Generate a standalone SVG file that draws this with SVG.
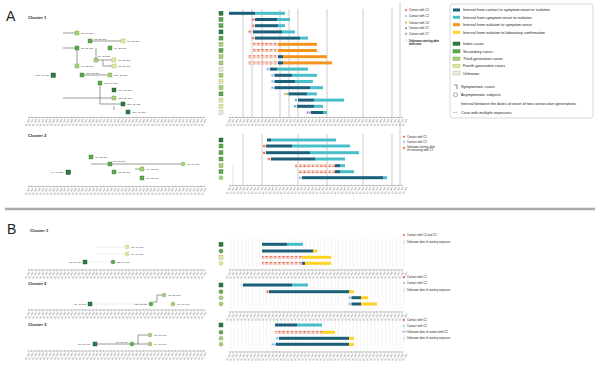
<svg xmlns="http://www.w3.org/2000/svg" width="608" height="369" viewBox="0 0 608 369">
<style>
.t{font-family:"Liberation Sans",Arial,sans-serif;fill:#222}
.big{font-size:14px}
.h{font-size:4.3px;font-weight:bold}
.lg{font-size:3.9px}
.sl{font-size:2.8px}
.nl{font-family:"Liberation Sans",Arial,sans-serif;font-size:2.5px;fill:#333}
.tk{font-family:"Liberation Sans",Arial,sans-serif;font-size:2.5px;fill:#555}
.axl{stroke:#8a8a8a;stroke-width:0.5}
.axt{stroke:#8a8a8a;stroke-width:1.4;stroke-dasharray:0.4 3.2}
.grid{stroke:#c6c6c6;stroke-width:0.9}
.dk{fill:#1c5f78}.lt{fill:#47bec8}.or{fill:#f7941d}.ye{fill:#fed325}
.n1{fill:#2d7b3e;stroke:#1c4f28;stroke-width:0.4}
.n2{fill:#5ea84e;stroke:#3d7a33;stroke-width:0.4}
.n3{fill:#a8d17a;stroke:#6f9c4a;stroke-width:0.4}
.n4{fill:#e0eba0;stroke:#a8b56a;stroke-width:0.4}
.n5{fill:#ececdf;stroke:#a0a08a;stroke-width:0.4}
.e{stroke:#6e6e6e;stroke-width:0.7;fill:none}
.ed{stroke:#c4c4c4;stroke-width:0.6;fill:none;stroke-dasharray:1 1}
.mr{fill:#ef5a3a}.mb{fill:#8ab8ea}.mg{fill:#e3a91e}.mt{fill:#3fa0b8}.mp{fill:#a77fd0}
.bg{fill:#f5dbd3}
</style>
<defs>
<pattern id="pr" width="4.2" height="3" patternUnits="userSpaceOnUse">
<rect width="4.2" height="3" fill="#f6ddd6"/><circle cx="2.1" cy="1.5" r="1" fill="#ef5a3a"/>
</pattern>
<pattern id="vg" width="3.6" height="10" patternUnits="userSpaceOnUse">
<rect width="0.5" height="10" fill="#ececec"/>
</pattern>
<text id="tl" class="tk" text-anchor="end" transform="rotate(-60)">01-Jan</text>
<g id="t10"><use href="#tl"/><use href="#tl" x="3.6"/><use href="#tl" x="7.2"/><use href="#tl" x="10.8"/><use href="#tl" x="14.4"/><use href="#tl" x="18"/><use href="#tl" x="21.6"/><use href="#tl" x="25.2"/><use href="#tl" x="28.8"/><use href="#tl" x="32.4"/></g>
<g id="t50"><use href="#t10"/><use href="#t10" x="36"/><use href="#t10" x="72"/><use href="#t10" x="108"/><use href="#t10" x="144"/></g>
</defs>
<rect width="608" height="369" fill="#fff"/>

<!-- Titles -->
<text class="t big" x="6" y="21">A</text>
<text class="t big" x="7" y="234">B</text>
<text class="t h" x="28" y="18.5">Cluster 1</text>
<text class="t h" x="28" y="136.5">Cluster 2</text>
<text class="t h" x="30" y="231.5">Cluster 1</text>
<text class="t h" x="28" y="284.5">Cluster 2</text>
<text class="t h" x="28" y="325.5">Cluster 3</text>
<line x1="5" y1="209" x2="595" y2="209" stroke="#a9a9a9" stroke-width="2.5"/>

<!-- grids -->
<g id="grids">
<g class="grid">
<line x1="243" y1="9" x2="243" y2="117"/><line x1="252" y1="9" x2="252" y2="117"/><line x1="262" y1="9" x2="262" y2="117"/><line x1="280" y1="9" x2="280" y2="117"/><line x1="289" y1="9" x2="289" y2="117"/><line x1="298" y1="9" x2="298" y2="117"/><line x1="327" y1="9" x2="327" y2="117"/><line x1="363" y1="9" x2="363" y2="117"/><line x1="392" y1="9" x2="392" y2="117"/><line x1="400" y1="2" x2="400" y2="117"/>
<line x1="243" y1="134" x2="243" y2="185"/><line x1="262" y1="134" x2="262" y2="185"/><line x1="298" y1="134" x2="298" y2="185"/><line x1="327" y1="134" x2="327" y2="185"/><line x1="363" y1="134" x2="363" y2="185"/><line x1="392" y1="134" x2="392" y2="185"/><line x1="400" y1="122" x2="400" y2="185"/><line x1="233" y1="164" x2="233" y2="185" stroke="#e4e4e4"/>
</g>
<rect x="229" y="238" width="176" height="31" fill="url(#vg)"/>
<rect x="229" y="280" width="176" height="31" fill="url(#vg)"/>
<rect x="229" y="320" width="176" height="31" fill="url(#vg)"/>
</g>

<!-- axes -->
<g id="axes">
<line class="axl" x1="28" y1="117.5" x2="205" y2="117.5"/><line class="axt" x1="28" y1="117.5" x2="205" y2="117.5"/><use href="#t50" x="30" y="119.5"/>
<line class="axl" x1="229" y1="117.5" x2="403" y2="117.5"/><line class="axt" x1="229" y1="117.5" x2="403" y2="117.5"/><use href="#t50" x="231" y="119.5"/>
<line class="axl" x1="28" y1="186.5" x2="205" y2="186.5"/><line class="axt" x1="28" y1="186.5" x2="205" y2="186.5"/><use href="#t50" x="30" y="188.5"/>
<line class="axl" x1="229" y1="185.5" x2="403" y2="185.5"/><line class="axt" x1="229" y1="185.5" x2="403" y2="185.5"/><use href="#t50" x="231" y="187.5"/>
<line class="axl" x1="28" y1="270" x2="205" y2="270"/><line class="axt" x1="28" y1="270" x2="205" y2="270"/><use href="#t50" x="30" y="272"/>
<line class="axl" x1="229" y1="270" x2="403" y2="270"/><line class="axt" x1="229" y1="270" x2="403" y2="270"/><use href="#t50" x="231" y="272"/>
<line class="axl" x1="28" y1="310" x2="205" y2="310"/><line class="axt" x1="28" y1="310" x2="205" y2="310"/><use href="#t50" x="30" y="312"/>
<line class="axl" x1="229" y1="312" x2="403" y2="312"/><line class="axt" x1="229" y1="312" x2="403" y2="312"/><use href="#t50" x="231" y="314"/>
<line class="axl" x1="28" y1="351" x2="205" y2="351"/><line class="axt" x1="28" y1="351" x2="205" y2="351"/><use href="#t50" x="30" y="353"/>
<line class="axl" x1="229" y1="352" x2="403" y2="352"/><line class="axt" x1="229" y1="352" x2="403" y2="352"/><use href="#t50" x="231" y="354"/>
</g>

<!-- connectors -->
<g id="connectors">
<g class="e">
<path d="M63 33H75"/><path d="M92 41H121"/><path d="M63 48H75"/><path d="M77 50V64"/><path d="M96 48V58"/><path d="M98 60H112M103 60V66H112"/><path d="M84 75H108"/><path d="M100 85V104H121"/><path d="M63 98H112"/><path d="M114 106V110"/>
<path d="M91 164H181"/><path d="M135 169H140"/>
<path d="M97 344H130"/><path d="M138 344V335H148M134 344H148"/>
<path d="M153 302H157V295H162"/>
</g>
<g class="ed">
<path d="M97 247H125"/><path d="M97 254H125"/><path d="M87 262H111"/><path d="M92 304H149"/>
</g>
</g>

<!-- Cluster A1 tree nodes -->
<g id="a1-tree">
<g id="a1t1"><rect class="n3" x="75" y="31" width="4" height="4"/><text class="nl" x="81" y="34">C1, 20 Jan</text></g>
<g id="a1t2"><rect class="n2" x="88" y="39" width="4" height="4"/><text class="nl" x="94" y="39.5">C2, 22 Jan</text></g>
<g id="a1t3"><rect class="n4" x="121" y="39" width="4" height="4"/><text class="nl" x="127" y="42">C3, 27 Jan</text></g>
<g id="a1t4"><rect class="n2" x="108" y="46" width="4" height="4"/><text class="nl" x="114" y="49">C4, 25 Jan</text></g>
<g id="a1t5"><rect class="n2" x="75" y="46" width="4" height="4"/><text class="nl" x="81" y="49">C5, 21 Jan</text></g>
<g id="a1t6"><rect class="n3" x="94" y="58" width="4" height="4"/><text class="nl" x="98" y="56.5">C6, 23 Jan</text></g>
<g id="a1t7"><rect class="n4" x="112" y="58" width="4" height="4"/><text class="nl" x="118" y="61">C7, 28 Jan</text></g>
<g id="a1t8"><rect class="n4" x="112" y="64" width="4" height="4"/><text class="nl" x="118" y="67">C8, 28 Jan</text></g>
<g id="a1t9"><rect class="n3" x="75" y="64" width="4" height="4"/><text class="nl" x="81" y="67">C9, 22 Jan</text></g>
<g id="a1t10"><rect class="n1" x="51" y="73" width="4.5" height="4.5"/><text class="nl" x="49" y="76" text-anchor="end">C10, 14 Jan</text></g>
<g id="a1t11"><rect class="n2" x="80" y="73" width="4" height="4"/><text class="nl" x="86" y="73.5">C11, 20 Jan</text></g>
<g id="a1t12"><rect class="n3" x="108" y="73" width="4" height="4"/><text class="nl" x="114" y="76">C12, 25 Jan</text></g>
<g id="a1t13"><rect class="n2" x="98" y="81" width="4" height="4"/><text class="nl" x="104" y="84">C13, 24 Jan</text></g>
<g id="a1t14"><rect class="n1" x="112" y="88" width="4" height="4"/><text class="nl" x="118" y="91">C14, 27 Jan</text></g>
<g id="a1t15"><rect class="n3" x="112" y="96" width="4" height="4"/><text class="nl" x="118" y="99">C15, 27 Jan</text></g>
<g id="a1t16"><rect class="n1" x="121" y="102" width="4" height="4"/><text class="nl" x="127" y="105">C16, 29 Jan</text></g>
<g id="a1t17"><rect class="n1" x="126" y="110" width="4" height="4"/><text class="nl" x="132" y="113">C17, 30 Jan</text></g>
</g>

<!-- Cluster A2 tree nodes -->
<g id="a2-tree">
<g id="a2t1"><rect class="n2" x="89" y="155" width="4" height="4"/><text class="nl" x="95" y="158">C1, 21 Jan</text></g>
<g id="a2t2"><rect class="n2" x="108" y="162" width="4" height="4"/><text class="nl" x="113" y="162">C2, 25 Jan</text></g>
<g id="a2t3"><circle class="n3" cx="183" cy="164" r="2"/><text class="nl" x="187" y="165">C3, 14 Feb</text></g>
<g id="a2t4"><rect class="n1" x="66" y="170" width="4.5" height="4.5"/><text class="nl" x="63" y="173" text-anchor="end">C4, 17 Jan</text></g>
<g id="a2t5"><rect class="n2" x="112" y="170" width="4" height="4"/><text class="nl" x="118" y="173">C5, 26 Jan</text></g>
<g id="a2t6"><rect class="n3" x="140" y="167" width="4" height="4"/><text class="nl" x="146" y="170">C6, 02 Feb</text></g>
<g id="a2t7"><rect class="n2" x="140" y="176" width="4" height="4"/><text class="nl" x="146" y="179">C7, 02 Feb</text></g>
</g>

<!-- Cluster B1 tree nodes -->
<g id="b1-tree">
<g id="b1t1"><circle class="n4" cx="127" cy="247" r="2"/><text class="nl" x="131" y="248">C3, 14 Feb</text></g>
<g id="b1t2"><circle class="n4" cx="127" cy="254" r="2"/><text class="nl" x="131" y="255">C4, 14 Feb</text></g>
<g id="b1t3"><rect class="n1" x="83" y="260" width="4" height="4"/><text class="nl" x="81" y="263" text-anchor="end">C1, 01 Feb</text></g>
<g id="b1t4"><circle class="n2" cx="113" cy="262" r="2"/><text class="nl" x="117" y="263">C2, 09 Feb</text></g>
</g>

<!-- Cluster B2 tree nodes -->
<g id="b2-tree">
<g id="b2t1"><rect class="n1" x="88" y="302" width="4" height="4"/><text class="nl" x="86" y="305" text-anchor="end">C1, 31 Jan</text></g>
<g id="b2t2"><circle class="n2" cx="151" cy="304" r="2"/><text class="nl" x="147" y="305" text-anchor="end">C2, 17 Feb</text></g>
<g id="b2t3"><circle class="n3" cx="164" cy="295" r="2"/><text class="nl" x="168" y="296">C3, 21 Feb</text></g>
<g id="b2t4"><circle class="n3" cx="173" cy="304" r="2"/><text class="nl" x="177" y="305">C4, 24 Feb</text></g>
</g>

<!-- Cluster B3 tree nodes -->
<g id="b3-tree">
<g id="b3t1"><rect class="n1" x="93" y="342" width="4" height="4"/><text class="nl" x="90" y="345" text-anchor="end">C1, 01 Feb</text></g>
<g id="b3t2"><circle class="n2" cx="132" cy="344" r="2"/><text class="nl" x="128" y="343" text-anchor="end">C2, 12 Feb</text></g>
<g id="b3t3"><circle class="n3" cx="150" cy="335" r="2"/><text class="nl" x="154" y="336">C3, 17 Feb</text></g>
<g id="b3t4"><circle class="n3" cx="150" cy="344" r="2"/><text class="nl" x="154" y="345">C4, 17 Feb</text></g>
</g>

<!-- A1 timeline -->
<g id="a1-bars">
<rect class="n1" x="219" y="11.3" width="4" height="4"/><rect class="dk" x="229" y="11.8" width="26" height="3"/><rect class="lt" x="255" y="11.8" width="30" height="3"/>
<rect class="n2" x="219" y="17.5" width="4" height="4"/><rect class="bg" x="251" y="18" width="4" height="3"/><circle class="mr" cx="253" cy="19.5" r="1"/><rect class="dk" x="255" y="18" width="22" height="3"/><rect class="lt" x="277" y="18" width="13" height="3"/>
<rect class="n2" x="219" y="23.7" width="4" height="4"/><rect class="bg" x="251" y="24.2" width="4" height="3"/><circle class="mr" cx="253" cy="25.7" r="1"/><rect class="dk" x="255" y="24.2" width="23" height="3"/><rect class="lt" x="278" y="24.2" width="7" height="3"/>
<rect class="n1" x="219" y="29.9" width="4" height="4"/><rect x="248" y="30.4" width="5" height="3" fill="url(#pr)"/><rect class="dk" x="253" y="30.4" width="29" height="3"/><rect class="lt" x="282" y="30.4" width="13" height="3"/>
<rect class="n2" x="219" y="36.1" width="4" height="4"/><rect class="bg" x="251" y="36.6" width="4" height="3"/><circle class="mr" cx="253" cy="38.1" r="1"/><rect class="dk" x="255" y="36.6" width="45" height="3"/><rect class="lt" x="300" y="36.6" width="8" height="3"/>
<rect class="n3" x="219" y="42.3" width="4" height="4"/><rect x="253" y="42.8" width="25" height="3" fill="url(#pr)"/><rect class="or" x="278" y="42.8" width="39" height="3"/>
<rect class="n2" x="219" y="48.5" width="4" height="4"/><rect x="253" y="49" width="25" height="3" fill="url(#pr)"/><rect class="or" x="278" y="49" width="39" height="3"/>
<rect class="n3" x="219" y="54.7" width="4" height="4"/><rect x="248" y="55.2" width="30" height="3" fill="url(#pr)"/><rect class="dk" x="278" y="55.2" width="5" height="3"/><rect class="or" x="283" y="55.2" width="44" height="3"/>
<rect class="n3" x="219" y="60.9" width="4" height="4"/><rect x="248" y="61.4" width="30" height="3" fill="url(#pr)"/><rect class="dk" x="278" y="61.4" width="5" height="3"/><rect class="or" x="283" y="61.4" width="49" height="3"/>
<rect class="n5" x="219" y="67.1" width="4" height="4"/><rect x="266" y="67.6" width="4" height="3" fill="#dbe9f7"/><circle class="mb" cx="268" cy="69.1" r="1"/><rect class="dk" x="270" y="67.6" width="7" height="3"/><rect class="lt" x="277" y="67.6" width="31" height="3"/>
<rect class="n3" x="219" y="73.3" width="4" height="4"/><rect x="270.5" y="73.8" width="4" height="3" fill="#dbe9f7"/><circle class="mb" cx="272.5" cy="75.3" r="1"/><rect class="dk" x="274.5" y="73.8" width="17.5" height="3"/><rect class="lt" x="292" y="73.8" width="25" height="3"/>
<rect class="n4" x="219" y="79.5" width="4" height="4"/><rect x="270.5" y="80" width="4" height="3" fill="#dbe9f7"/><circle class="mb" cx="272.5" cy="81.5" r="1"/><rect class="dk" x="274.5" y="80" width="20.5" height="3"/><rect class="lt" x="295" y="80" width="18" height="3"/>
<rect class="n3" x="219" y="85.7" width="4" height="4"/><rect x="270.5" y="86.2" width="4" height="3" fill="#dbe9f7"/><circle class="mb" cx="272.5" cy="87.7" r="1"/><rect class="dk" x="274.5" y="86.2" width="35.5" height="3"/><rect class="lt" x="310" y="86.2" width="13" height="3"/>
<rect class="n2" x="219" y="91.9" width="4" height="4"/><rect x="283.5" y="92.4" width="5" height="3" fill="#eef2d8"/><circle class="mb" cx="285" cy="93.9" r="0.9"/><circle class="mg" cx="287.3" cy="93.9" r="1"/><rect class="dk" x="288.5" y="92.4" width="18.5" height="3"/><rect class="lt" x="307" y="92.4" width="10" height="3"/>
<rect class="n4" x="219" y="98.1" width="4" height="4"/><rect x="294" y="98.6" width="4" height="3" fill="#dceef2"/><circle class="mt" cx="296" cy="100.1" r="1"/><rect class="dk" x="298" y="98.6" width="16" height="3"/><rect class="lt" x="314" y="98.6" width="30" height="3"/>
<rect class="n4" x="219" y="104.3" width="4" height="4"/><rect x="293" y="104.8" width="4" height="3" fill="#dceef2"/><circle class="mt" cx="295" cy="106.3" r="1"/><rect class="dk" x="297" y="104.8" width="17" height="3"/><rect class="lt" x="314" y="104.8" width="9" height="3"/>
<rect class="n5" x="219" y="110.5" width="4" height="4"/><rect x="306" y="111" width="5" height="3" fill="#ece3f6"/><circle class="mp" cx="307.5" cy="112.5" r="0.9"/><circle class="mp" cx="309.8" cy="112.5" r="0.9"/><rect class="dk" x="311" y="111" width="12" height="3"/><rect class="lt" x="323" y="111" width="4" height="3"/>
</g>

<!-- A1 small legend -->
<g id="a1-legend">
<circle class="mr" cx="406" cy="10" r="1"/><text class="t sl" x="409" y="11">Contact with C1</text>
<circle class="mb" cx="406" cy="16" r="1"/><text class="t sl" x="409" y="17">Contact with C2</text>
<circle class="mg" cx="406" cy="22.5" r="1"/><text class="t sl" x="409" y="23.5">Contact with C4</text>
<circle class="mt" cx="406" cy="28.3" r="1"/><text class="t sl" x="409" y="29.3">Contact with C5</text>
<circle class="mp" cx="406" cy="33.7" r="1"/><text class="t sl" x="409" y="34.7">Contact with C7</text>
<line x1="406" y1="39" x2="406" y2="42" stroke="#8ab8ea" stroke-width="0.7" stroke-dasharray="0.7 0.5"/><text class="t sl" x="409" y="41.5" font-weight="bold">Unknown starting date</text><text class="t sl" x="409" y="44.8" font-weight="bold">with case</text>
</g>

<!-- Main legend -->
<g id="legend">
<rect x="450" y="4" width="143" height="114" rx="3" fill="#fff" stroke="#cfcfcf" stroke-width="0.8"/>
<rect class="dk" x="453" y="8.5" width="7" height="3"/><text class="t lg" x="463" y="11.3">Interval from contact to symptom onset or isolation</text>
<rect class="lt" x="453" y="15.8" width="7" height="3"/><text class="t lg" x="463" y="18.6">Interval from symptom onset to isolation</text>
<rect class="or" x="453" y="23.2" width="7" height="3"/><text class="t lg" x="463" y="26">Interval from isolation to symptom onset</text>
<rect class="ye" x="453" y="30.8" width="7" height="3"/><text class="t lg" x="463" y="33.6">Interval from isolation to laboratory confirmation</text>
<rect class="n1" x="453" y="42" width="7" height="3.4"/><text class="t lg" x="463" y="45">Index cases</text>
<rect class="n2" x="453" y="49.6" width="7" height="3.4"/><text class="t lg" x="463" y="52.6">Secondary cases</text>
<rect class="n3" x="453" y="57" width="7" height="3.4"/><text class="t lg" x="463" y="60">Third-generation cases</text>
<rect class="n4" x="453" y="64.3" width="7" height="3.4"/><text class="t lg" x="463" y="67.3">Fourth-generation cases</text>
<rect class="n5" x="453" y="71.6" width="7" height="3.4"/><text class="t lg" x="463" y="74.6">Unknown</text>
<path d="M454 85H457V89" fill="none" stroke="#333" stroke-width="0.6"/><text class="t lg" x="461" y="88">Symptomatic cases</text>
<circle cx="455.5" cy="94.7" r="2" fill="none" stroke="#555" stroke-width="0.5"/><text class="t lg" x="461" y="96">Asymptomatic subjects</text>
<text class="t lg" x="461" y="104.6">Interval between the dates of onset of two consecutive generations</text>
<line x1="453" y1="112.3" x2="458" y2="112.3" stroke="#444" stroke-width="0.6" stroke-dasharray="1.2 1.3"/><text class="t lg" x="461" y="113.6">Case with multiple exposures</text>
</g>

<!-- A2 timeline -->
<g id="a2-bars">
<rect class="n1" x="219" y="138" width="4" height="4"/><rect class="dk" x="267" y="138.5" width="4" height="3"/><rect class="lt" x="271" y="138.5" width="65" height="3"/>
<rect class="n2" x="219" y="144" width="4" height="4"/><rect class="bg" x="262" y="144.5" width="4" height="3"/><circle class="mr" cx="264" cy="146" r="1"/><rect class="dk" x="266" y="144.5" width="26" height="3"/><rect class="lt" x="292" y="144.5" width="58" height="3"/>
<rect class="n2" x="219" y="150.7" width="4" height="4"/><rect class="bg" x="262" y="151.2" width="4" height="3"/><circle class="mr" cx="264" cy="152.7" r="1"/><rect class="dk" x="266" y="151.2" width="44" height="3"/><rect class="lt" x="310" y="151.2" width="49" height="3"/>
<rect class="n2" x="219" y="157" width="4" height="4"/><rect class="bg" x="267" y="157.5" width="4" height="3"/><circle class="mr" cx="269" cy="159" r="1"/><rect class="dk" x="271" y="157.5" width="44" height="3"/><rect class="lt" x="315" y="157.5" width="30" height="3"/>
<rect class="n3" x="219" y="163.7" width="4" height="4"/><rect x="295" y="164.2" width="40" height="3" fill="url(#pr)"/><rect class="dk" x="335" y="164.2" width="5" height="3"/><rect class="lt" x="340" y="164.2" width="5" height="3"/>
<rect class="n2" x="219" y="169.7" width="4" height="4"/><rect x="299" y="170.2" width="36" height="3" fill="url(#pr)"/><rect class="dk" x="335" y="170.2" width="5" height="3"/><rect class="lt" x="340" y="170.2" width="14" height="3"/>
<circle class="n3" cx="221" cy="177.7" r="2"/><rect x="298" y="176.2" width="4" height="3" fill="#dbe9f7"/><circle class="mb" cx="300" cy="177.7" r="1"/><rect class="dk" x="302" y="176.2" width="81" height="3"/><rect class="lt" x="383" y="176.2" width="4" height="3"/>
</g>
<g id="a2-legend">
<circle class="mr" cx="404" cy="136.7" r="1"/><text class="t sl" x="407" y="137.7">Contact with C1</text>
<circle class="mb" cx="404" cy="141.7" r="1"/><text class="t sl" x="407" y="142.7">Contact with C2</text>
<rect x="402.5" y="146.5" width="3" height="3" fill="#f6ddd6"/><circle class="mr" cx="404" cy="148" r="0.9"/><text class="t sl" x="407" y="148.3">Unknown starting date</text><text class="t sl" x="407" y="151.3">of contacting with C1</text>
</g>

<!-- B1 timeline -->
<g id="b1-bars">
<rect class="n1" x="219" y="242.3" width="4" height="4"/><rect class="dk" x="262" y="242.8" width="25" height="3"/><rect class="lt" x="287" y="242.8" width="16" height="3"/>
<circle class="n2" cx="221" cy="251" r="2"/><rect class="dk" x="262" y="249.5" width="51" height="3"/><rect class="ye" x="313" y="249.5" width="4" height="3"/>
<rect class="n4" x="219" y="255.3" width="4" height="4"/><rect x="262" y="255.8" width="40" height="3" fill="url(#pr)"/><rect class="ye" x="302" y="255.8" width="29" height="3"/>
<circle class="n4" cx="221" cy="263.3" r="2"/><rect x="262" y="261.8" width="40" height="3" fill="url(#pr)"/><rect class="dk" x="302" y="261.8" width="3" height="3"/><rect class="ye" x="305" y="261.8" width="26" height="3"/>
</g>
<g id="b1-legend">
<circle class="mr" cx="404" cy="235" r="1"/><text class="t sl" x="407" y="236">Contact with C1 and C2</text>
<line x1="404" y1="240.5" x2="404" y2="243.5" stroke="#777" stroke-width="0.6" stroke-dasharray="0.7 0.5"/><text class="t sl" x="407" y="243">Unknown date of starting exposure</text>
</g>

<!-- B2 timeline -->
<g id="b2-bars">
<rect class="n1" x="219" y="283" width="4" height="4"/><rect x="240.5" y="283.5" width="3" height="3" fill="#dbe9f7"/><rect class="dk" x="243" y="283.5" width="49" height="3"/><rect class="lt" x="292" y="283.5" width="16" height="3"/>
<circle class="n2" cx="221" cy="291.7" r="2"/><rect class="bg" x="266" y="290.2" width="3" height="3"/><circle class="mr" cx="267.5" cy="291.7" r="1"/><rect class="dk" x="269" y="290.2" width="80" height="3"/><rect class="ye" x="349" y="290.2" width="5" height="3"/>
<circle class="n3" cx="221" cy="297.7" r="2"/><rect x="348" y="296.2" width="3.5" height="3" fill="#dbe9f7"/><circle class="mb" cx="349.7" cy="297.7" r="1"/><rect class="dk" x="351.5" y="296.2" width="9.5" height="3"/><rect class="ye" x="361" y="296.2" width="7" height="3"/>
<circle class="n3" cx="221" cy="304" r="2"/><rect x="348" y="302.5" width="3.5" height="3" fill="#dbe9f7"/><circle class="mb" cx="349.7" cy="304" r="1"/><rect class="dk" x="351.5" y="302.5" width="9.5" height="3"/><rect class="ye" x="361" y="302.5" width="16" height="3"/>
</g>
<g id="b2-legend">
<circle class="mr" cx="404" cy="277" r="1"/><text class="t sl" x="407" y="278">Contact with C1</text>
<circle class="mb" cx="404" cy="283" r="1"/><text class="t sl" x="407" y="284">Contact with C2</text>
<line x1="404" y1="288.5" x2="404" y2="291.5" stroke="#777" stroke-width="0.6" stroke-dasharray="0.7 0.5"/><text class="t sl" x="407" y="291">Unknown date of starting exposure</text>
</g>

<!-- B3 timeline -->
<g id="b3-bars">
<rect class="n1" x="219" y="323" width="4" height="4"/><rect class="dk" x="275" y="323.5" width="22" height="3"/><rect class="lt" x="297" y="323.5" width="25" height="3"/>
<circle class="n2" cx="221" cy="332.3" r="2"/><rect x="275" y="330.8" width="47" height="3" fill="url(#pr)"/><rect class="ye" x="322" y="330.8" width="13" height="3"/>
<circle class="n3" cx="221" cy="338.3" r="2"/><rect x="275.5" y="336.8" width="3.5" height="3" fill="#dbe9f7"/><circle class="mb" cx="277.2" cy="338.3" r="1"/><rect class="dk" x="279" y="336.8" width="70" height="3"/><rect class="ye" x="349" y="336.8" width="5" height="3"/>
<circle class="n3" cx="221" cy="344.3" r="2"/><rect x="271.5" y="342.8" width="4.5" height="3" fill="#dbe9f7"/><circle class="mb" cx="272.8" cy="344.3" r="0.9"/><circle class="mb" cx="275" cy="344.3" r="0.9"/><rect class="dk" x="276" y="342.8" width="73" height="3"/><rect class="ye" x="349" y="342.8" width="5" height="3"/>
</g>
<g id="b3-legend">
<circle class="mr" cx="404" cy="320" r="1"/><text class="t sl" x="407" y="321">Contact with C1</text>
<circle class="mb" cx="404" cy="325.7" r="1"/><text class="t sl" x="407" y="326.7">Contact with C2</text>
<circle class="mb" cx="403" cy="331.7" r="0.9"/><circle class="mb" cx="405" cy="331.7" r="0.9"/><text class="t sl" x="407" y="332.7">Unknown date of contact with C2</text>
<line x1="404" y1="336.8" x2="404" y2="339.8" stroke="#777" stroke-width="0.6" stroke-dasharray="0.7 0.5"/><text class="t sl" x="407" y="339.3">Unknown date of starting exposure</text>
</g>
</svg>
